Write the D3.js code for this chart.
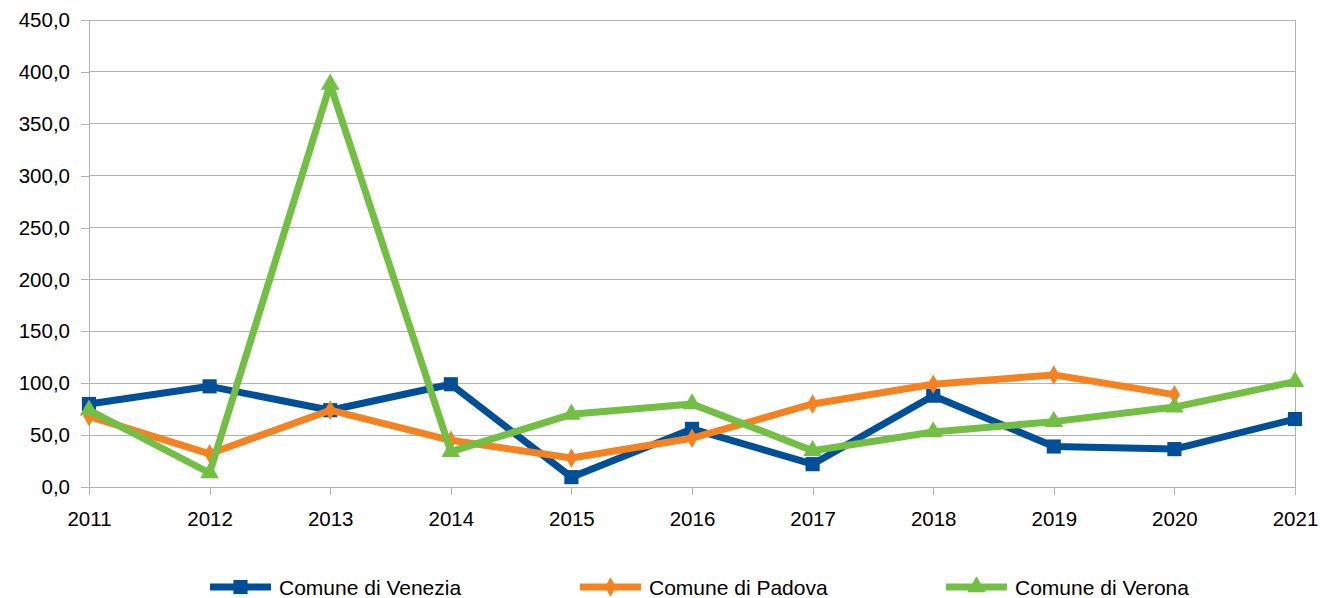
<!DOCTYPE html>
<html>
<head>
<meta charset="utf-8">
<script src="https://cdn.jsdelivr.net/npm/d3@7"></script>
<style>
  html, body { margin: 0; padding: 0; background: #fff; }
  svg { display: block; font-family: "Liberation Sans", Arial, sans-serif; }
</style>
</head>
<body>
<svg id="chart" width="1320" height="598"></svg>
<script>
const years = [2011, 2012, 2013, 2014, 2015, 2016, 2017, 2018, 2019, 2020, 2021];
const venezia = [80, 97, 74, 99, 9.5, 56, 22, 88, 39, 36.5, 65.5];
const padova = [68, 32, 74, 45, 28, 47, 80, 99, 108, 89, null];
const verona = [74, 13.5, 388, 34, 70, 80, 35, 53, 63, 77, 101.5];
const yTicks = [0, 50, 100, 150, 200, 250, 300, 350, 400, 450];
const seriesNames = ["Comune di Venezia", "Comune di Padova", "Comune di Verona"];
const colors = ["#004f98", "#f58220", "#72bf44"];
const markerTypes = ["square", "diamond", "triangle"];

(function () {
  const series = [venezia, padova, verona].map((vals, i) => ({
    name: seriesNames[i], color: colors[i], marker: markerTypes[i],
    points: vals.map((v, j) => ({ year: years[j], value: v })).filter(d => d.value != null)
  }));

  const svg = d3.select("#chart");
  const plotL = 89, plotR = 1295, plotT = 20, plotB = 487;
  const axisFont = "20.5px";

  const x = d3.scaleLinear().domain([2011, 2021]).range([plotL, plotR]);
  const y = d3.scaleLinear().domain([0, 450]).range([plotB, plotT]);

  const fmt = v => d3.format(".1f")(v).replace(".", ",");

  // horizontal grid
  svg.append("g").selectAll("line").data(yTicks).join("line")
    .attr("x1", plotL).attr("x2", plotR)
    .attr("y1", d => y(d)).attr("y2", d => y(d))
    .attr("stroke", "#b3b3b3").attr("stroke-width", 1).attr("shape-rendering", "crispEdges");

  // right border
  svg.append("line").attr("x1", plotR).attr("x2", plotR).attr("y1", plotT).attr("y2", plotB)
    .attr("stroke", "#b3b3b3").attr("shape-rendering", "crispEdges");

  // y axis
  const yAxis = svg.append("g").attr("transform", `translate(${plotL},0)`)
    .call(d3.axisLeft(y).tickValues(yTicks).tickFormat(fmt).tickSize(8).tickPadding(11));
  yAxis.select(".domain").attr("stroke", "#b3b3b3");
  yAxis.selectAll(".tick line").attr("stroke", "#b3b3b3");
  yAxis.selectAll(".tick text").attr("fill", "#000").style("font-size", axisFont)
    .style("font-family", "'Liberation Sans', Arial, sans-serif");

  // x axis
  const xAxis = svg.append("g").attr("transform", `translate(0,${plotB})`)
    .call(d3.axisBottom(x).tickValues(years).tickFormat(d3.format("d")).tickSize(8).tickPadding(16.5));
  xAxis.select(".domain").attr("stroke", "#b3b3b3");
  xAxis.selectAll(".tick line").attr("stroke", "#b3b3b3");
  xAxis.selectAll(".tick text").attr("fill", "#000").style("font-size", axisFont)
    .style("font-family", "'Liberation Sans', Arial, sans-serif");
  svg.selectAll(".domain, .tick line").attr("shape-rendering", "crispEdges");

  const symbolFor = (type) => {
    if (type === "square") return d3.symbol(d3.symbolSquare, 200)();
    if (type === "diamond") return d3.symbol(d3.symbolDiamond, 110)();
    return d3.symbol(d3.symbolTriangle, 150)();
  };

  const line = d3.line().x(d => x(d.year)).y(d => y(d.value));

  series.forEach(s => {
    const g = svg.append("g");
    g.append("path").datum(s.points).attr("d", line)
      .attr("fill", "none").attr("stroke", s.color).attr("stroke-width", 7)
      .attr("stroke-linejoin", "round");
    g.selectAll("path.m").data(s.points).join("path").attr("class", "m")
      .attr("d", symbolFor(s.marker))
      .attr("transform", d => `translate(${x(d.year)},${y(d.value)})`)
      .attr("fill", s.color);
  });

  // legend
  const legendX = [210, 580, 946];
  const lg = svg.append("g");
  series.forEach((s, i) => {
    const g = lg.append("g").attr("transform", `translate(${legendX[i]},587)`);
    g.append("line").attr("x1", 0).attr("x2", 61).attr("y1", 0).attr("y2", 0)
      .attr("stroke", s.color).attr("stroke-width", 7);
    g.append("path").attr("d", symbolFor(s.marker)).attr("transform", "translate(30.5,0)")
      .attr("fill", s.color);
    g.append("text").attr("x", 69).attr("y", 8).text(s.name)
      .style("font-size", "21px").attr("fill", "#000");
  });
})();
</script>
</body>
</html>
